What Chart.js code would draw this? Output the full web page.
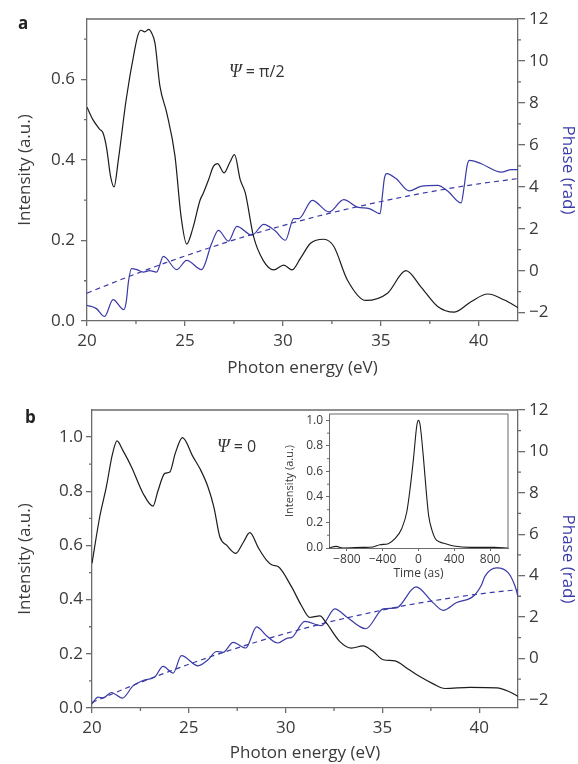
<!DOCTYPE html>
<html>
<head>
<meta charset="utf-8">
<script src="https://cdn.jsdelivr.net/npm/chart.js@4.4.1/dist/chart.umd.min.js"></script>
<style>
  html, body { margin: 0; padding: 0; background: #fff; }
  #page { position: relative; width: 578px; height: 764px; overflow: hidden; font-family: 'Open Sans', sans-serif; color: #333; }
  canvas { position: absolute; }
  .tag { position: absolute; font-weight: 700; font-size: 17px; line-height: 1; color: #222; }
  .psi { position: absolute; font-size: 16px; line-height: 1; color: #333; white-space: nowrap; }
  .psi i { font-family: 'Liberation Serif', serif; font-size: 18px; line-height: 1; }
</style>
</head>
<body>
<div id="page">
  <canvas id="panelA" width="578" height="382" style="left:0;top:0"></canvas>
  <canvas id="panelB" width="578" height="382" style="left:0;top:382px"></canvas>
  <canvas id="inset" width="235" height="185" style="left:280px;top:400px"></canvas>
  <div class="tag" style="left:18px;top:14px">a</div>
  <div class="tag" style="left:25px;top:408px">b</div>
  <div class="psi" style="left:229px;top:62px"><i>Ψ</i> = π/2</div>
  <div class="psi" style="left:217px;top:437px"><i>Ψ</i> = 0</div>
</div>
<script>
// Panel a (Psi = pi/2): spectral intensity and phase
const energyA = [20, 20.3, 20.65, 20.82, 21.0, 21.2, 21.38, 21.6, 22.0, 22.44, 22.6, 22.75, 22.95, 23.15, 23.3,
  23.47, 23.72, 24.07, 24.49, 24.8, 25.09, 25.4, 25.77, 25.94, 26.2, 26.45, 26.66, 27.0, 27.3, 27.53, 27.82, 28.08,
  28.5, 29.0, 29.53, 30.04, 30.47, 30.9, 31.41, 32.09, 32.6, 33.29, 34.23, 35.34, 36.28, 37.04, 37.9, 38.75, 39.6,
  40.46, 41.31, 42];
const intensityA = [0.531, 0.50, 0.476, 0.467, 0.43, 0.36, 0.333, 0.40, 0.55, 0.675, 0.71, 0.722, 0.718, 0.724, 0.715,
  0.69, 0.584, 0.517, 0.41, 0.26, 0.191, 0.23, 0.30, 0.318, 0.35, 0.384, 0.391, 0.368, 0.395, 0.413, 0.351, 0.318,
  0.21, 0.15, 0.127, 0.139, 0.127, 0.156, 0.193, 0.203, 0.185, 0.102, 0.051, 0.069, 0.125, 0.085, 0.036, 0.022, 0.048,
  0.067, 0.052, 0.033];
const phaseEnergyA = [20, 20.48, 20.9, 21.33, 21.88, 22.0, 22.12, 22.27, 22.55, 22.87, 23.2, 23.55, 23.9, 24.58, 25.09,
  25.85, 26.36, 26.71, 27.22, 27.65, 28.42, 29.02, 29.6, 30.13, 30.55, 30.81, 31.5, 32.35, 33.11, 33.8, 34.4, 34.96,
  35.08, 35.18, 35.3, 35.77, 36.45, 37.04, 37.9, 38.41, 39.1, 39.25, 39.4, 39.52, 40.12, 41.15, 41.66, 42];
const phaseA = [-1.65, -1.81, -2.18, -1.38, -1.86, -1.5, -0.5, 0.1, 0.05, -0.07, 0.0, -0.07, 0.68, 0.05, 0.49,
  0.05, 1.29, 1.92, 1.41, 2.11, 1.69, 2.21, 1.9, 1.45, 2.48, 2.48, 3.35, 2.8, 3.39, 3.03, 2.96, 2.72,
  3.6, 4.4, 4.63, 4.39, 3.8, 4.02, 4.07, 3.8, 3.23, 4.0, 5.0, 5.26, 5.1, 4.7, 4.82, 4.82];

// Panel b (Psi = 0)
const energyB = [20, 20.4, 20.74, 21.05, 21.29, 21.6, 22.04, 22.64, 23.15, 23.4, 23.76, 24.02, 24.3, 24.67, 25.22,
  25.6, 25.99, 26.3, 26.6, 26.95, 27.43, 27.8, 28.15, 28.6, 29.01, 29.3, 29.61, 30.3, 30.8, 31.25, 31.77, 32.11, 32.8,
  33.4, 34.0, 34.5, 35.04, 35.64, 36.3, 36.93, 37.6, 38.23, 39.52, 40.9, 41.5, 42];
const intensityB = [0.534, 0.706, 0.816, 0.935, 0.986, 0.95, 0.89, 0.792, 0.745, 0.80, 0.866, 0.871, 0.94, 0.998, 0.927,
  0.88, 0.816, 0.74, 0.632, 0.601, 0.571, 0.61, 0.647, 0.59, 0.546, 0.528, 0.522, 0.448, 0.38, 0.334, 0.34, 0.313, 0.245,
  0.221, 0.229, 0.21, 0.178, 0.174, 0.145, 0.116, 0.09, 0.072, 0.076, 0.074, 0.062, 0.043];
const phaseEnergyB = [20, 20.31, 20.57, 21.0, 21.57, 22.12, 22.64, 23.24, 23.67, 24.19, 24.62, 25.48, 25.99, 26.43,
  26.77, 27.29, 27.94, 28.5, 29.0, 29.6, 30.1, 30.3, 30.99, 31.85, 32.54, 33.15, 34.14, 35.04, 35.73, 36.73, 37.62,
  38.14, 38.83, 39.69, 40.12, 40.29, 40.9, 41.5, 41.85, 42];
const phaseB = [-2.2, -1.87, -1.92, -1.65, -1.92, -1.33, -1.07, -0.9, -0.39, -0.71, 0.13, -0.36, -0.07, 0.33,
  0.29, 0.77, 0.5, 1.52, 1.1, 0.74, 0.98, 1.0, 1.79, 1.58, 2.39, 2.0, 1.43, 2.39, 2.44, 3.45, 2.68,
  2.32, 2.7, 3.0, 3.56, 3.96, 4.37, 4.13, 3.48, 2.98];

// phase fits (dashed)
const fitEnergy = [20, 22, 24, 26, 28, 30, 32, 34, 36, 38, 40, 42];
const fitPhaseA = [-1.07, -0.33, 0.37, 1.01, 1.61, 2.15, 2.65, 3.09, 3.49, 3.84, 4.14, 4.39];
const fitPhaseB = [-2.13, -1.35, -0.63, 0.04, 0.65, 1.20, 1.70, 2.13, 2.52, 2.84, 3.11, 3.32];

// inset: attosecond pulse
const timeAs = [-1000, -920, -845, -620, -508, -432, -338, -263, -188, -131, -94, -56, -19, 0, 19, 56, 87, 113, 151,
  188, 237, 301, 395, 583, 846, 1000];
const pulse = [0, 0.013, 0, 0.005, 0.008, 0.026, 0.034, 0.073, 0.151, 0.282, 0.465, 0.70, 0.96, 1.0, 0.96, 0.70, 0.44,
  0.256, 0.138, 0.073, 0.047, 0.034, 0.016, 0.005, 0.005, 0];

// ticks
const energyTicks = [20, 25, 30, 35, 40];
const energyMinor = [22.5, 27.5, 32.5, 37.5];
const phaseTicks = [-2, 0, 2, 4, 6, 8, 10, 12];
const phaseMinor = [-1, 1, 3, 5, 7, 9, 11];
const intensityTicksA = [0, 0.2, 0.4, 0.6];
const intensityMinorA = [0.1, 0.3, 0.5, 0.7];
const intensityTicksB = [0, 0.2, 0.4, 0.6, 0.8, 1.0];
const intensityMinorB = [0.1, 0.3, 0.5, 0.7, 0.9];
const timeTicks = [-800, -400, 0, 400, 800];
const pulseTicks = [0, 0.2, 0.4, 0.6, 0.8, 1.0];
const pulseMinor = [0.1, 0.3, 0.5, 0.7, 0.9];

const FONT = "'Open Sans', sans-serif";
const AXIS = '#6b6b6b';
const TEXT = '#3a3a3a';
const BLACK = '#1c1c1c';
const BLUE = '#3a3aa8';

function zip(xs, ys) {
  return xs.map((x, i) => ({ x, y: ys[i] }));
}

function fixedTicks(values) {
  return (scale) => { scale.ticks = values.map((value) => ({ value })); };
}

const minusSign = (v) => String(v).replace('-', '\u2212');

// top border line, optional right border, and short minor ticks
const framePlugin = {
  id: 'frame',
  afterDraw(chart, args, opts) {
    const { ctx } = chart;
    const { left, right, top, bottom } = chart.chartArea;
    ctx.save();
    ctx.strokeStyle = AXIS;
    ctx.lineWidth = opts.width || 1.3;
    ctx.beginPath();
    ctx.moveTo(left, top);
    ctx.lineTo(right, top);
    if (opts.closeRight) {
      ctx.moveTo(right, top);
      ctx.lineTo(right, bottom);
    }
    (opts.minor || []).forEach((m) => {
      const scale = chart.scales[m.axis];
      m.values.forEach((v) => {
        const p = scale.getPixelForValue(v);
        if (scale.position === 'left') {
          ctx.moveTo(left - m.len, p); ctx.lineTo(left, p);
        } else if (scale.position === 'right') {
          ctx.moveTo(right, p); ctx.lineTo(right + m.len, p);
        } else {
          ctx.moveTo(p, bottom); ctx.lineTo(p, bottom + m.len);
        }
      });
    });
    ctx.stroke();
    ctx.restore();
  }
};

function axis(opts) {
  return {
    type: 'linear',
    position: opts.position,
    min: opts.min,
    max: opts.max,
    border: { display: true, color: AXIS, width: opts.lineWidth || 1.3 },
    grid: { drawOnChartArea: false, drawTicks: true, tickLength: opts.tickLength, color: AXIS, lineWidth: opts.lineWidth || 1.3 },
    ticks: {
      padding: opts.padding,
      color: TEXT,
      font: { family: FONT, size: opts.fontSize },
      callback: opts.format
    },
    title: {
      display: true,
      text: opts.title,
      color: opts.titleColor || TEXT,
      font: { family: FONT, size: opts.titleSize },
      padding: opts.titlePadding
    },
    afterBuildTicks: fixedTicks(opts.ticks),
    afterFit: (scale) => {
      if (opts.position === 'bottom') scale.height = opts.size;
      else scale.width = opts.size;
    }
  };
}

function makePanel(id, p) {
  return new Chart(document.getElementById(id), {
    type: 'line',
    data: {
      datasets: [
        { data: zip(p.energy, p.intensity), yAxisID: 'y', borderColor: BLACK, borderWidth: 1.2 },
        { data: zip(p.phaseEnergy, p.phase), yAxisID: 'y2', borderColor: BLUE, borderWidth: 1.2 },
        { data: zip(fitEnergy, p.fit), yAxisID: 'y2', borderColor: BLUE, borderWidth: 1.2, borderDash: [5, 4] }
      ]
    },
    options: {
      responsive: false,
      animation: false,
      elements: { point: { radius: 0 }, line: { cubicInterpolationMode: 'monotone' } },
      layout: { padding: { top: p.top, left: 0, right: 0, bottom: 0 } },
      scales: {
        x: axis({
          position: 'bottom', min: 20, max: 42, ticks: energyTicks, tickLength: 5, padding: 5,
          fontSize: 17, title: 'Photon energy (eV)', titleSize: 17, titlePadding: { top: 0, bottom: p.xTitlePad },
          size: p.xHeight
        }),
        y: axis({
          position: 'left', min: 0, max: p.yMax, ticks: p.yTicks, tickLength: 6, padding: p.yPad,
          fontSize: 17, format: (v) => v.toFixed(1), title: 'Intensity (a.u.)', titleSize: 17,
          titlePadding: { top: 15, bottom: 0 }, size: p.left
        }),
        y2: axis({
          position: 'right', min: -2.4, max: 12, ticks: phaseTicks, tickLength: 7, padding: 4,
          fontSize: 17, format: minusSign, title: 'Phase (rad)', titleSize: 17, titleColor: BLUE,
          titlePadding: { top: 0, bottom: 0 }, size: 60
        })
      },
      plugins: {
        legend: { display: false },
        tooltip: { enabled: false },
        frame: {
          minor: [
            { axis: 'x', values: energyMinor, len: 3 },
            { axis: 'y', values: p.yMinor, len: 3 },
            { axis: 'y2', values: phaseMinor, len: 3 }
          ]
        }
      }
    },
    plugins: [framePlugin]
  });
}

makePanel('panelA', {
  energy: energyA, intensity: intensityA, phaseEnergy: phaseEnergyA, phase: phaseA, fit: fitPhaseA,
  top: 19, xHeight: 61, xTitlePad: 4, left: 87, yMax: 0.75, yTicks: intensityTicksA, yMinor: intensityMinorA, yPad: 6
});

makePanel('panelB', {
  energy: energyB, intensity: intensityB, phaseEnergy: phaseEnergyB, phase: phaseB, fit: fitPhaseB,
  top: 28, xHeight: 56, xTitlePad: 1, left: 92, yMax: 1.1, yTicks: intensityTicksB, yMinor: intensityMinorB, yPad: 3
});

new Chart(document.getElementById('inset'), {
  type: 'line',
  data: {
    datasets: [{ data: zip(timeAs, pulse), borderColor: BLACK, borderWidth: 1.1 }]
  },
  options: {
    responsive: false,
    animation: false,
    elements: { point: { radius: 0 }, line: { cubicInterpolationMode: 'monotone' } },
    layout: { padding: { top: 14, right: 7, left: 0, bottom: 0 } },
    scales: {
      x: axis({
        position: 'bottom', min: -1000, max: 1000, ticks: timeTicks, tickLength: 3, padding: 1,
        fontSize: 12, format: minusSign, title: 'Time (as)', titleSize: 12,
        titlePadding: { top: 0, bottom: 4 }, size: 37, lineWidth: 1
      }),
      y: axis({
        position: 'left', min: 0, max: 1.05, ticks: pulseTicks, tickLength: 3, padding: 3,
        fontSize: 12, format: (v) => v.toFixed(1), title: 'Intensity (a.u.)', titleSize: 11,
        titlePadding: { top: 3, bottom: 0 }, size: 49, lineWidth: 1
      })
    },
    plugins: {
      legend: { display: false },
      tooltip: { enabled: false },
      frame: {
        width: 1,
        closeRight: true,
        minor: [{ axis: 'y', values: pulseMinor, len: 2 }]
      }
    }
  },
  plugins: [framePlugin]
});
</script>
</body>
</html>
